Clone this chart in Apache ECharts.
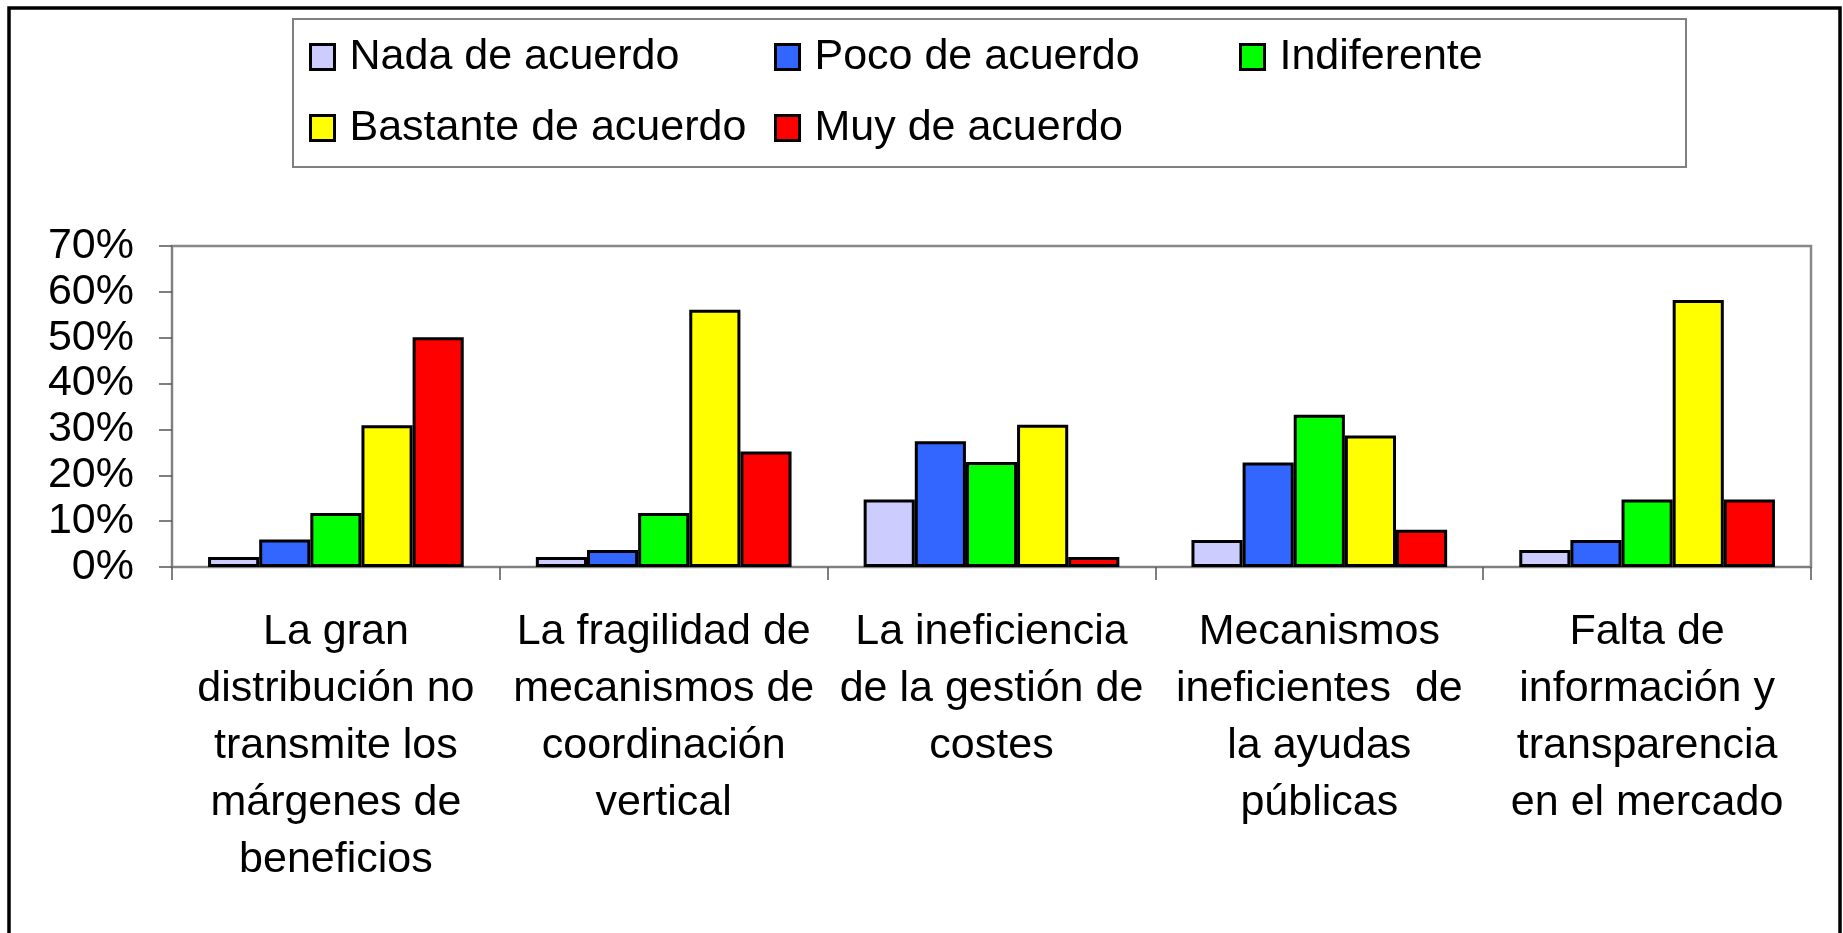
<!DOCTYPE html>
<html>
<head>
<meta charset="utf-8">
<title>Grado de acuerdo</title>
<style>
    html, body { margin: 0; padding: 0; background: #fff; }
    #chart { width: 1843px; height: 933px; }
</style>
</head>
<body>
<div id="chart"></div>
<script src="https://cdn.jsdelivr.net/npm/echarts@6/dist/echarts.min.js"></script>
<script type="text/javascript">

    // categorias del eje X
    var categorias = [
        'La gran\ndistribución no\ntransmite los\nmárgenes de\nbeneficios',
        'La fragilidad de\nmecanismos de\ncoordinación\nvertical',
        'La ineficiencia\nde la gestión de\ncostes',
        'Mecanismos\nineficientes  de\nla ayudas\npúblicas',
        'Falta de\ninformación y\ntransparencia\nen el mercado'
    ];

    // porcentajes por grado de acuerdo
    var nadaAcuerdo      = [2.2, 2.2, 14.7, 5.9, 3.7];
    var pocoAcuerdo      = [6.0, 3.7, 27.4, 22.8, 5.9];
    var indiferente      = [11.8, 11.8, 22.9, 33.2, 14.7];
    var bastanteAcuerdo  = [30.9, 56.1, 31.0, 28.7, 58.2];
    var muyAcuerdo       = [50.1, 25.2, 2.2, 8.1, 14.7];

    var nombres = ['Nada de acuerdo', 'Poco de acuerdo', 'Indiferente', 'Bastante de acuerdo', 'Muy de acuerdo'];
    var colores = ['#CCCCFF', '#3366FF', '#00FF00', '#FFFF00', '#FF0000'];
    var valores = [nadaAcuerdo, pocoAcuerdo, indiferente, bastanteAcuerdo, muyAcuerdo];

    var fuente = "'Liberation Sans', Arial, sans-serif";

    function serie(i) {
        return {
            name: nombres[i],
            type: 'bar',
            barGap: '0%',
            barCategoryGap: '22%',
            itemStyle: {
                color: colores[i],
                borderColor: '#000',
                borderWidth: 3
            },
            data: valores[i]
        };
    }

    function leyenda(left, data) {
        return {
            orient: 'vertical',
            left: left,
            top: 33,
            padding: 0,
            itemGap: 23,
            itemWidth: 24,
            itemHeight: 25,
            icon: 'rect',
            selectedMode: false,
            itemStyle: {
                borderColor: '#000',
                borderWidth: 3
            },
            textStyle: {
                fontFamily: fuente,
                fontSize: 43,
                lineHeight: 48,
                color: '#000',
                padding: [0, 0, 0, 10]
            },
            data: data
        };
    }

    var myChart = echarts.init(document.getElementById('chart'));

    var option = {
        backgroundColor: '#fff',
        animation: false,
        textStyle: { fontFamily: fuente },
        legend: [
            leyenda(309, ['Nada de acuerdo', 'Bastante de acuerdo']),
            leyenda(774, ['Poco de acuerdo', 'Muy de acuerdo']),
            leyenda(1239, ['Indiferente'])
        ],
        graphic: [
            {
                type: 'rect',
                shape: { x: 9, y: 8, width: 1831, height: 950 },
                style: { fill: 'none', stroke: '#000', lineWidth: 3.5 },
                silent: true
            },
            {
                type: 'rect',
                shape: { x: 293, y: 19, width: 1393, height: 148 },
                style: { fill: 'none', stroke: '#808080', lineWidth: 2 },
                silent: true
            }
        ],
        grid: {
            left: 172,
            right: 32,
            top: 246,
            bottom: 366,
            show: true,
            borderColor: '#888',
            borderWidth: 2.5,
            containLabel: false,
            outerBoundsMode: 'none'
        },
        xAxis: {
            type: 'category',
            data: categorias,
            axisLine: { lineStyle: { color: '#808080', width: 2 } },
            axisTick: { show: true, length: 13, lineStyle: { color: '#555', width: 1.5 } },
            axisLabel: {
                interval: 0,
                hideOverlap: false,
                margin: 37,
                color: '#000',
                fontFamily: fuente,
                fontSize: 43,
                lineHeight: 57,
                align: 'center'
            }
        },
        yAxis: {
            type: 'value',
            min: 0,
            max: 70,
            interval: 10,
            splitLine: { show: false },
            axisLine: { show: true, lineStyle: { color: '#808080', width: 2 } },
            axisTick: { show: true, length: 13, lineStyle: { color: '#555', width: 1.5 } },
            axisLabel: {
                formatter: '{value}%',
                margin: 38,
                color: '#000',
                fontFamily: fuente,
                fontSize: 43
            }
        },
        series: [serie(0), serie(1), serie(2), serie(3), serie(4)]
    };
    myChart.setOption(option);
</script>
</body>
</html>
